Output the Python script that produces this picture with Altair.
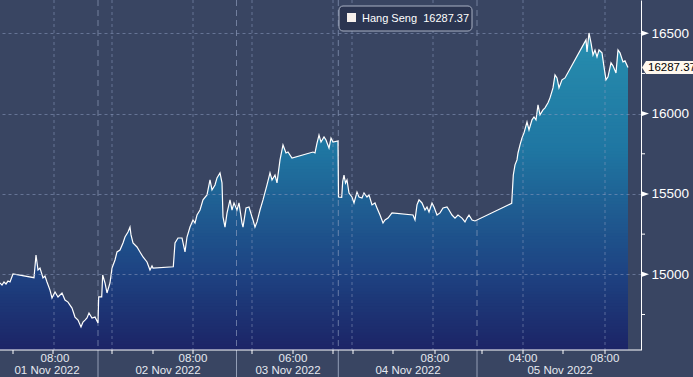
import altair as alt
import pandas as pd
import numpy as np

# ---- data ----
session_pos = [0, 2, 4, 6, 8, 10, 13, 34, 36, 38, 40, 43, 45, 47, 50, 52, 55, 58, 62, 65,
               68, 72, 75, 78, 81, 83, 85, 87, 89, 92, 95, 98, 98.7, 101.7, 102.7, 105, 107,
               110, 112, 115, 117, 120, 123, 125, 128, 130, 131, 133, 137, 140, 143, 147, 150,
               152, 153, 173.3, 175, 178, 182, 185, 187, 190, 193, 195, 197, 200, 203, 207,
               210, 212, 215, 217, 220, 222, 223, 225, 227, 230, 232, 234, 237, 239, 242, 243,
               246, 249, 252, 253, 255, 257, 260, 263, 267, 270, 272, 275, 277, 280, 283, 286,
               288, 292, 313, 315, 317, 319, 321, 324, 326, 329, 331, 333, 338, 338.5, 341.7,
               342.7, 344, 345.5, 347, 349, 352, 354, 357, 359, 362, 364, 367, 369, 372, 375,
               377, 380, 383, 385, 388, 392, 413, 415, 417, 419, 422, 425, 427, 429, 432, 434,
               437, 440, 443, 447, 449, 452, 455, 458, 462, 465, 467, 469, 472, 475, 511.7,
               513.3, 515, 517, 518, 520, 522, 524, 527, 529, 532, 534, 536, 538, 540, 543,
               545, 548, 550, 553, 555, 557, 559, 562, 565, 586, 587, 589, 591, 593, 595, 597,
               599, 602, 604, 606, 608, 611, 613, 616, 618, 620, 623, 625, 628]
hang_seng = [14946, 14933, 14952, 14940, 14958, 14952, 15002, 14979, 15120, 15027, 15039,
             14977, 14989, 14952, 14902, 14852, 14890, 14859, 14884, 14840, 14827, 14790,
             14734, 14715, 14672, 14703, 14715, 14728, 14759, 14728, 14734, 14697, 14859,
             14859, 14996, 14946, 14884, 14946, 15039, 15089, 15139, 15151, 15195, 15232,
             15263, 15294, 15245, 15195, 15170, 15139, 15108, 15077, 15027, 15052, 15039,
             15047, 15195, 15226, 15226, 15139, 15232, 15294, 15338, 15319, 15369, 15400,
             15463, 15494, 15587, 15525, 15556, 15600, 15631, 15569, 15357, 15294, 15381,
             15463, 15400, 15444, 15400, 15444, 15319, 15294, 15413, 15419, 15357, 15338,
             15294, 15326, 15400, 15463, 15556, 15631, 15587, 15618, 15569, 15712, 15805,
             15755, 15761, 15724, 15761, 15755, 15817, 15867, 15823, 15855, 15836, 15786,
             15848, 15823, 15830, 15481, 15479, 15577, 15618, 15568, 15587, 15506, 15481,
             15444, 15512, 15481, 15475, 15506, 15481, 15494, 15432, 15444, 15413, 15369,
             15319, 15338, 15350, 15382, 15369, 15338, 15432, 15463, 15444, 15400, 15419,
             15388, 15444, 15419, 15369, 15382, 15413, 15419, 15400, 15369, 15350, 15369,
             15350, 15326, 15350, 15369, 15338, 15332, 15442, 15618, 15681, 15712, 15755,
             15805, 15849, 15880, 15948, 15898, 15961, 15979, 15961, 16054, 15992, 16023,
             16036, 16067, 16098, 16160, 16241, 16222, 16160, 16210, 16222, 16459, 16384,
             16502, 16440, 16365, 16396, 16353, 16396, 16378, 16291, 16210, 16229, 16316,
             16297, 16253, 16396, 16378, 16322, 16328, 16287.37]

y_ticks = [15000, 15500, 16000, 16500]
y_minor = [14750, 15250, 15750, 16250]
time_pos = [55, 193, 293, 435, 523, 605]
time_labels = ["08:00", "08:00", "06:00", "08:00", "04:00", "08:00"]
minor_ticks = [13, 53, 112, 153, 193, 252, 293, 333, 353, 393, 435, 482, 523, 563, 605]
day_breaks = [98, 236.5, 338.3, 477]
date_pos = [47, 168, 288, 408, 560]
date_labels = ["01 Nov 2022", "02 Nov 2022", "03 Nov 2022", "04 Nov 2022", "05 Nov 2022"]
grid_pos = [54, 112, 193, 252, 333, 352, 433, 523, 605]
series_name = "Hang Seng"

W, H = 641, 350
XDOM = [0, 641]
YDOM = [14529, 16707]
BG = "#394562"
FONT = "Liberation Sans"

df = pd.DataFrame({"t": session_pos, "v": hang_seng})
df["top"] = YDOM[1]
last = df.tail(1).copy()
last["label"] = last["v"].map(lambda v: f"{v:.2f}")

xs = alt.Scale(domain=XDOM, nice=False, zero=False)
ys = alt.Scale(domain=YDOM, nice=False, zero=False)

# ---- vertical fill gradient, built as thin overlapping horizontal bands (style only) ----
stop_pos = [0.0, 0.18, 0.43, 0.57, 0.77, 1.0]       # fraction of plot height from top
stop_col = ["#2b97ba", "#2588ab", "#1f76a2", "#1f6194", "#1e4483", "#1c2466"]


def _hex(c):
    return np.array([int(c[i:i + 2], 16) for i in (1, 3, 5)], dtype=float)


NB = 120
edges = np.linspace(YDOM[1], YDOM[0], NB + 1)
step = edges[0] - edges[1]
rows = []
for i in range(NB):
    f = (i + 0.5) / NB
    j = max(k for k in range(len(stop_pos) - 1) if stop_pos[k] <= f)
    u = (f - stop_pos[j]) / (stop_pos[j + 1] - stop_pos[j])
    c = _hex(stop_col[j]) * (1 - u) + _hex(stop_col[j + 1]) * u
    lo = edges[i + 1] - (0.8 * step if i < NB - 1 else 0)
    rows.append({"t": session_pos[0], "t2": session_pos[-1],
                 "v": float(edges[i]), "v2": float(lo),
                 "col": "#%02x%02x%02x" % tuple(int(round(x)) for x in c)})
bands_df = pd.DataFrame(rows)

bands = alt.Chart(bands_df).mark_rect(strokeWidth=0).encode(
    x=alt.X("t:Q", scale=xs, axis=None),
    x2="t2:Q",
    y=alt.Y("v:Q", scale=ys, axis=alt.Axis(
        orient="right", values=y_ticks, format="d", title=None,
        labelColor="white", labelFont=FONT, labelFontSize=13.5, labelPadding=10,
        tickSize=0, domainColor="white", domainWidth=1,
        grid=True, gridColor="#8d9bc0", gridDash=[3, 3], gridOpacity=0.55, zindex=1)),
    y2="v2:Q",
    color=alt.Color("col:N", scale=None),
)

mask = alt.Chart(df).mark_area(color=BG, opacity=1).encode(
    x=alt.X("t:Q", scale=xs),
    y=alt.Y("v:Q", scale=ys),
    y2="top:Q",
)

line = alt.Chart(df).mark_line(color="white", strokeWidth=1.2).encode(
    x=alt.X("t:Q", scale=xs), y=alt.Y("v:Q", scale=ys))

grid_df = pd.DataFrame({"t": grid_pos})
vgrid = alt.Chart(grid_df).mark_rule(color="#8d9bc0", strokeDash=[3, 3], opacity=0.55).encode(
    x=alt.X("t:Q", scale=xs), y=alt.value(0), y2=alt.value(H))

brk_df = pd.DataFrame({"t": day_breaks})
brk_in = alt.Chart(brk_df).mark_rule(color="#9aa6c6", strokeDash=[6, 4], opacity=0.6).encode(
    x=alt.X("t:Q", scale=xs), y=alt.value(0), y2=alt.value(H))
brk_out = alt.Chart(brk_df).mark_rule(color="#aab4cc", opacity=0.8).encode(
    x=alt.X("t:Q", scale=xs), y=alt.value(H), y2=alt.value(H + 27))

axis_df = pd.DataFrame({"a": [0]})
xline = alt.Chart(axis_df).mark_rule(color="white", strokeWidth=1).encode(
    x=alt.value(0), x2=alt.value(W), y=alt.value(H))

mt_df = pd.DataFrame({"t": minor_ticks})
mticks = alt.Chart(mt_df).mark_rule(color="white").encode(
    x=alt.X("t:Q", scale=xs), y=alt.value(H), y2=alt.value(H + 4))

tl_df = pd.DataFrame({"t": time_pos, "lab": time_labels})
tlabels = alt.Chart(tl_df).mark_text(color="#e6e9f0", font=FONT, fontSize=11.5, baseline="middle",
                                      align="center").encode(
    x=alt.X("t:Q", scale=xs), y=alt.value(H + 9), text="lab:N")

dl_df = pd.DataFrame({"t": date_pos, "lab": date_labels})
dlabels = alt.Chart(dl_df).mark_text(color="#e6e9f0", font=FONT, fontSize=11.5, baseline="middle",
                                      align="center").encode(
    x=alt.X("t:Q", scale=xs), y=alt.value(H + 20.5), text="lab:N")

ym_df = pd.DataFrame({"v": y_minor})
ymticks = alt.Chart(ym_df).mark_rule(color="white").encode(
    y=alt.Y("v:Q", scale=ys), x=alt.value(W), x2=alt.value(W + 4))

yt_df = pd.DataFrame({"v": y_ticks})
ytri = alt.Chart(yt_df).mark_point(shape="M-1,-0.7L1,0L-1,0.7Z", filled=True, size=49,
                                   color="white", opacity=1).encode(
    y=alt.Y("v:Q", scale=ys), x=alt.value(W + 4.5))

lastbox = alt.Chart(last).mark_point(shape="M-2.8,0L-2.4,-0.65L3.2,-0.65L3.2,0.65L-2.4,0.65Z",
                                     filled=True, size=400, color="#fff8ee", opacity=1).encode(
    y=alt.Y("v:Q", scale=ys), x=alt.value(W + 29))
lasttext = alt.Chart(last).mark_text(color="black", font=FONT, fontSize=11.5, align="left",
                                     baseline="middle", dy=1).encode(
    y=alt.Y("v:Q", scale=ys), x=alt.value(W + 7), text="label:N")

leg_df = pd.DataFrame({"label": [f"{series_name}\u00a0\u00a0{hang_seng[-1]:.2f}"]})
legbox = alt.Chart(leg_df).mark_rect(fill="#2b3551", stroke="#aab2c4", strokeWidth=1,
                                     cornerRadius=4).encode(
    x=alt.value(339), x2=alt.value(472), y=alt.value(6), y2=alt.value(31))
legsq = alt.Chart(leg_df).mark_rect(fill="#f6f0ec").encode(
    x=alt.value(347), x2=alt.value(356), y=alt.value(13), y2=alt.value(22))
legtext = alt.Chart(leg_df).mark_text(color="white", font=FONT, fontSize=11, align="left",
                                      baseline="middle").encode(
    x=alt.value(362), y=alt.value(19), text="label:N")

chart = alt.layer(bands, mask, vgrid, brk_in, line, brk_out, xline, mticks, tlabels, dlabels,
                  ymticks, ytri, lastbox, lasttext, legbox, legsq, legtext).properties(
    width=W, height=H,
    padding={"left": 0, "top": 0, "right": 52, "bottom": 27},
    autosize=alt.AutoSizeParams(type="none"),
    background=BG,
).configure_view(stroke=None)

chart.save("out.html", embed_options={"renderer": "svg", "actions": False})
